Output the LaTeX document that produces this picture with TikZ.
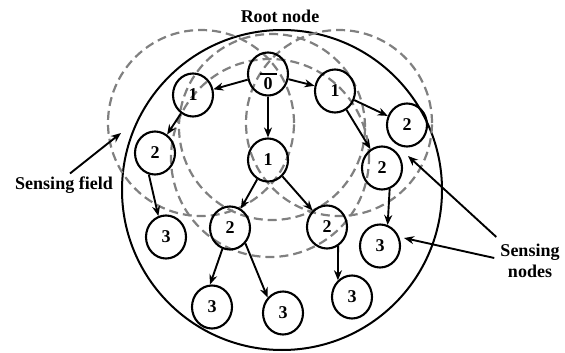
\documentclass[tikz,border=0pt]{standalone}
\usepackage{fontspec}
\setmainfont{Liberation Serif}
\usetikzlibrary{arrows.meta,shapes.geometric,calc}
\tikzset{
  sensor/.style={draw, ellipse, line width=2.1pt, minimum width=40pt, minimum height=43pt, inner sep=0pt},
  field/.style={draw=black!50, line width=2.2pt, dash pattern=on 9pt off 5pt},
  link/.style={line width=1.9pt, -{Stealth[length=10pt,width=8pt]}},
  label/.style={align=center, inner sep=1pt},
  border/.style={line width=2pt}
}
\begin{document}
\begin{tikzpicture}[x=1pt,y=-1pt,font=\fontsize{18}{21}\selectfont\bfseries]
\useasboundingbox (0,0) rectangle (565,353);
% outer region
\draw[border] (282,190) circle[radius=160pt];
% sensing fields
\draw[field] (201,123) circle[radius=93pt];
\draw[field] (339,123) circle[radius=93pt];
\draw[field] (272,127) circle[radius=93pt];
\draw[field] (270,158) circle[radius=99pt];
% nodes
\node[sensor] (n0) at (268,74) {};
\node (n0t) at (268,84) {0};
\node[sensor] (l1) at (193,95) {1};
\node[sensor] (m1) at (268,160) {1};
\node[sensor] (r1) at (335,91) {1};
\node[sensor] (l2) at (155,153) {2};
\node[sensor] (ml2) at (230,228) {2};
\node[sensor] (mr2) at (327,227) {2};
\node[sensor] (r2a) at (407,125) {2};
\node[sensor] (r2b) at (382,168) {2};
\node[sensor] (l3) at (166,237) {3};
\node[sensor] (b3a) at (212,307) {3};
\node[sensor] (b3b) at (283,313) {3};
\node[sensor] (b3c) at (352,297) {3};
\node[sensor] (r3) at (380,246) {3};
\draw[line width=1.6pt] ($(n0)+(-8,0)$) -- ($(n0)+(9,0)$);
% links
\draw[link] (n0) -- (l1);
\draw[link] (n0) -- (m1);
\draw[link] (n0) -- (r1);
\draw[link] (l1) -- (l2);
\draw[link] (l2.254) -- (l3.110);
\draw[link] (m1) -- (ml2);
\draw[link] (m1) -- (mr2);
\draw[link] (r1) -- (r2a);
\draw[link] (r1) -- (r2b);
\draw[link] (r2b.290) -- (r3.70);
\draw[link] (ml2.250) -- (b3a.95);
\draw[link] (ml2.315) -- (b3b.135);
\draw[link] (mr2.300) -- (b3c.130);
% labels
\node[label] (root) at (280,16) {Root node};
\node[label] (sf) at (64,185) {Sensing field};
\node[label] (sn) at (530,261) {Sensing\\nodes};
\coordinate (sfa) at (121,133);
\coordinate (sna) at (408,156);
\coordinate (snb) at (404,238);
\draw[link] (sf.north) ++(6,-2) -- (sfa);
\draw[link] ($(sn.north west)+(-3,-6)$) -- (sna);
\draw[link] ($(sn.west)+(-5,-3)$) -- (snb);
\end{tikzpicture}
\end{document}
